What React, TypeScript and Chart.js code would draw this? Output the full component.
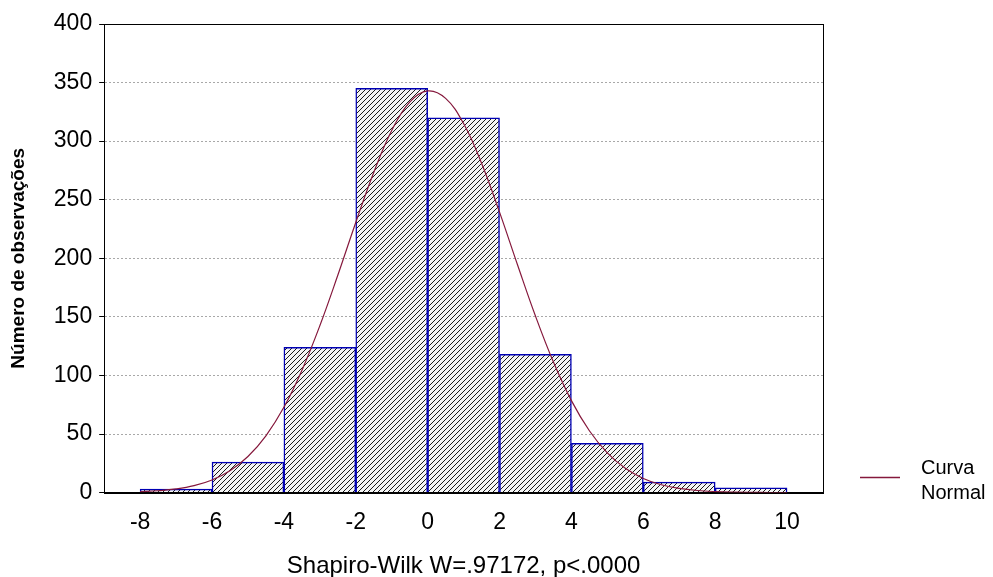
import React, { useEffect, useRef } from "react";
import { Chart, registerables } from "chart.js";

Chart.register(...registerables);

// Histogram bins (centres) and counts
const binCenters = [-7, -5, -3, -1, 1, 3, 5, 7, 9];
const binCounts = [3, 26, 124, 345, 320, 118, 42, 9, 4];

// Normal curve
const curveX = [-8, -7.5, -7, -6.5, -6, -5.5, -5, -4.5, -4, -3.5, -3, -2.5, -2, -1.5, -1, -0.5, 0, 0.5, 1, 1.5, 2, 2.5, 3, 3.5, 4, 4.5, 5, 5.5, 6, 6.5, 7, 7.5, 8, 8.5, 9, 9.5, 10];
const curveY = [0.75, 1.6, 3.1, 5.9, 10.8, 18.7, 30.8, 48.5, 72.8, 104.3, 142.4, 185.5, 230.6, 273.3, 309.1, 333.3, 342.9, 336.5, 315.0, 281.2, 239.4, 194.5, 150.7, 111.4, 78.5, 52.8, 33.9, 20.7, 12.1, 6.7, 3.6, 1.8, 0.87, 0.4, 0.18, 0.07, 0.03];

const xTicks = [-8, -6, -4, -2, 0, 2, 4, 6, 8, 10];
const yTicks = [0, 50, 100, 150, 200, 250, 300, 350, 400];

const xTitle = "Shapiro-Wilk W=.97172, p<.0000";
const yTitle = "Número de observações";
const legendLines = ["Curva", "Normal"];

const FONT = "'Liberation Sans', Arial, sans-serif";
const CURVE_COLOR = "#85183c";

function makeHatch(): CanvasPattern | string {
  const c = document.createElement("canvas");
  c.width = 5;
  c.height = 5;
  const g = c.getContext("2d");
  if (!g) return "#ccc";
  g.fillStyle = "#f4f4f4";
  g.fillRect(0, 0, 5, 5);
  g.strokeStyle = "#1a1a1a";
  g.lineWidth = 1;
  g.beginPath();
  g.moveTo(-1, 6);
  g.lineTo(6, -1);
  g.moveTo(-1, 1);
  g.lineTo(1, -1);
  g.moveTo(4, 6);
  g.lineTo(6, 4);
  g.stroke();
  const p = g.createPattern(c, "repeat");
  return p || "#ccc";
}

const framePlugin = {
  id: "frameAndLegend",
  afterDatasetsDraw(chart: any) {
    const { ctx, chartArea } = chart;
    ctx.save();
    ctx.strokeStyle = "#000";
    ctx.lineWidth = 1;
    ctx.strokeRect(
      Math.round(chartArea.left) + 0.5,
      Math.round(chartArea.top) + 0.5,
      Math.round(chartArea.right - chartArea.left),
      Math.round(chartArea.bottom - chartArea.top)
    );
    // legend
    const lx = chartArea.right + 37;
    const ly = chartArea.bottom - 15;
    ctx.strokeStyle = CURVE_COLOR;
    ctx.lineWidth = 1.5;
    ctx.beginPath();
    ctx.moveTo(lx, ly);
    ctx.lineTo(lx + 40, ly);
    ctx.stroke();
    ctx.fillStyle = "#000";
    ctx.font = `20px ${FONT}`;
    ctx.textBaseline = "middle";
    ctx.textAlign = "left";
    ctx.fillText(legendLines[0], lx + 61, ly - 9);
    ctx.fillText(legendLines[1], lx + 61, ly + 16);
    ctx.restore();
  },
};

export default function App() {
  const ref = useRef<HTMLCanvasElement | null>(null);

  useEffect(() => {
    if (!ref.current) return;
    const hatch = makeHatch();
    const chart = new Chart(ref.current, {
      type: "bar",
      data: {
        datasets: [
          {
            type: "line",
            label: "Curva Normal",
            data: curveX.map((x, i) => ({ x, y: curveY[i] })),
            borderColor: CURVE_COLOR,
            borderWidth: 1.2,
            pointRadius: 0,
            tension: 0.4,
            fill: false,
            order: 0,
          } as any,
          {
            type: "bar",
            label: "Observações",
            data: binCenters.map((x, i) => ({ x, y: binCounts[i] })),
            backgroundColor: hatch as any,
            borderColor: "#0000b4",
            borderWidth: { top: 1.5, left: 1.5, right: 1.5, bottom: 0 },
            borderSkipped: false,
            barPercentage: 1,
            categoryPercentage: 1,
            order: 1,
          } as any,
        ],
      },
      options: {
        animation: false,
        responsive: true,
        maintainAspectRatio: false,
        layout: { padding: { top: 24, right: 170, left: 7, bottom: 0 } },
        plugins: {
          legend: { display: false },
          tooltip: { enabled: false },
        },
        scales: {
          x: {
            type: "linear",
            offset: false,
            min: -9,
            max: 11,
            afterBuildTicks: (s: any) => {
              s.ticks = xTicks.map((v) => ({ value: v }));
            },
            grid: { display: false, drawTicks: false },
            border: { display: true, color: "#000" },
            ticks: {
              color: "#000",
              font: { family: FONT, size: 23 },
              padding: 16,
              maxRotation: 0,
              autoSkip: false,
            },
            title: {
              display: true,
              text: xTitle,
              color: "#000",
              font: { family: FONT, size: 24 },
              padding: { top: 0, bottom: -4 },
            },
          },
          y: {
            min: 0,
            max: 400,
            afterBuildTicks: (s: any) => {
              s.ticks = yTicks.map((v) => ({ value: v }));
            },
            grid: {
              color: "#a8a8a8",
              lineWidth: 1,
              tickBorderDash: [],
              tickColor: "#000",
              tickLength: 5,
              drawTicks: true,
            } as any,
            border: { display: true, color: "#000", dash: [2, 2] } as any,
            ticks: {
              color: "#000",
              font: { family: FONT, size: 23 },
              padding: 7,
            },
            title: {
              display: true,
              text: yTitle,
              color: "#000",
              font: { family: FONT, size: 19, weight: "bold" },
              padding: { top: 0, bottom: 17 },
            },
          },
        },
      },
      plugins: [framePlugin],
    });
    return () => chart.destroy();
  }, []);

  return (
    <div style={{ position: "absolute", left: 0, top: 0, width: 993, height: 577, background: "#fff" }}>
      <canvas ref={ref} />
    </div>
  );
}
